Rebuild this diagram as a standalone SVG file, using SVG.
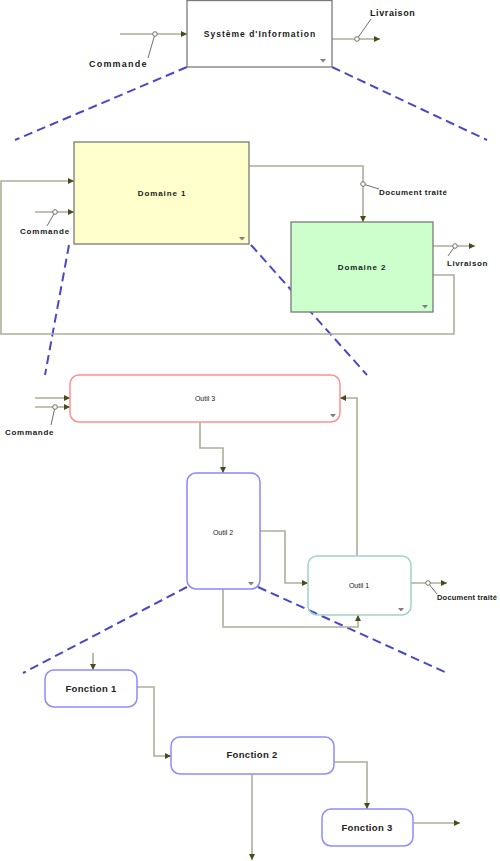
<svg xmlns="http://www.w3.org/2000/svg" width="500" height="861" viewBox="0 0 500 861">
<style>
.bg{fill:#ffffff}
.dash{stroke:#4848c8;stroke-width:2;stroke-dasharray:9,5;fill:none}
.con{stroke:#aeae9a;stroke-width:1.6;fill:none}
.lead{stroke:#707070;stroke-width:1;fill:none}
.dot{fill:#ffffff;stroke:#707070;stroke-width:1}
.box{stroke:#7a7a7a;stroke-width:1.3}
.tri{fill:#808080}
.lbl{font-family:"Liberation Sans",Arial,sans-serif;font-weight:bold;font-size:8px;fill:#1a1a1a;letter-spacing:0.8px}
.nm{font-family:"Liberation Sans",Arial,sans-serif;font-weight:bold;font-size:8px;fill:#1a1a1a;letter-spacing:0.9px;text-anchor:middle}
.ot{font-family:"Liberation Sans",Arial,sans-serif;font-size:7px;fill:#1a1a1a;text-anchor:middle}
.fn{font-family:"Liberation Sans",Arial,sans-serif;font-weight:bold;font-size:9.5px;fill:#222222;letter-spacing:0.3px;text-anchor:middle}
.fbox{fill:#ffffff;stroke:#8c8cff;stroke-width:1.5}
</style>
<defs>
<marker id="arr" viewBox="0 0 6 6" refX="6" refY="3" markerWidth="6" markerHeight="6" markerUnits="userSpaceOnUse" orient="auto">
<path d="M0,0 L6,3 L0,6 z" fill="#4a4a1e"/>
</marker>
</defs>
<rect class="bg" x="0" y="0" width="500" height="861"/>
<g id="zoom-lines">
<line class="dash" x1="187" y1="67" x2="15" y2="140"/>
<line class="dash" x1="332" y1="67" x2="487" y2="140"/>
<line class="dash" x1="69" y1="245" x2="45" y2="375"/>
<line class="dash" x1="251" y1="245" x2="367" y2="375"/>
<line class="dash" x1="187" y1="587" x2="23" y2="673"/>
<line class="dash" x1="258" y1="587" x2="447" y2="673"/>
</g>
<g id="connectors">
<path class="con" d="M120,34 H187" marker-end="url(#arr)"/>
<path class="con" d="M332,39 H380" marker-end="url(#arr)"/>
<path class="con" d="M433,275 H454 V334 H1 V181 H74" marker-end="url(#arr)"/>
<path class="con" d="M35,212 H74" marker-end="url(#arr)"/>
<path class="con" d="M249,166 H363 V222" marker-end="url(#arr)"/>
<path class="con" d="M433,246 H475" marker-end="url(#arr)"/>
<path class="con" d="M35,398 H70" marker-end="url(#arr)"/>
<path class="con" d="M35,407 H70" marker-end="url(#arr)"/>
<path class="con" d="M200,422 V448 H223 V473" marker-end="url(#arr)"/>
<path class="con" d="M260,531 H285 V583 H308" marker-end="url(#arr)"/>
<path class="con" d="M223,589 V627 H358 V615" marker-end="url(#arr)"/>
<path class="con" d="M357,556 V398 H340" marker-end="url(#arr)"/>
<path class="con" d="M411,583 H447" marker-end="url(#arr)"/>
<path class="con" d="M93,653 V670" marker-end="url(#arr)"/>
<path class="con" d="M137,687 H154 V756 H171" marker-end="url(#arr)"/>
<path class="con" d="M252,774 V860" marker-end="url(#arr)"/>
<path class="con" d="M334,762 H367 V809" marker-end="url(#arr)"/>
<path class="con" d="M413,823 H460" marker-end="url(#arr)"/>
<line class="lead" x1="155" y1="34" x2="148" y2="58"/>
<line class="lead" x1="357" y1="39" x2="371" y2="19"/>
<line class="lead" x1="55" y1="212" x2="47" y2="226"/>
<line class="lead" x1="363" y1="184" x2="379" y2="189"/>
<line class="lead" x1="455" y1="246" x2="448" y2="256"/>
<line class="lead" x1="55" y1="407" x2="51" y2="425"/>
<line class="lead" x1="428" y1="583" x2="437" y2="594"/>
<circle class="dot" cx="155" cy="34" r="2.3"/>
<circle class="dot" cx="357" cy="39" r="2.3"/>
<circle class="dot" cx="55" cy="212" r="2.3"/>
<circle class="dot" cx="363" cy="184" r="2.3"/>
<circle class="dot" cx="455" cy="246" r="2.3"/>
<circle class="dot" cx="55" cy="407" r="2.3"/>
<circle class="dot" cx="428" cy="583" r="2.3"/>
<text class="lbl" x="89" y="67" style="font-size:9px;letter-spacing:1.2px">Commande</text>
<text class="lbl" x="370" y="16" style="font-size:9px;letter-spacing:0.6px">Livraison</text>
<text class="lbl" x="20" y="234">Commande</text>
<text class="lbl" x="379" y="195" style="letter-spacing:0.5px">Document traité</text>
<text class="lbl" x="447" y="266" style="letter-spacing:0.6px">Livraison</text>
<text class="lbl" x="5" y="435" style="letter-spacing:0.7px">Commande</text>
<text class="lbl" x="437" y="600" style="font-size:7.5px;letter-spacing:0.2px">Document traité</text>
</g>
<g id="systeme">
<rect class="box" x="187" y="0.5" width="145" height="66.5" fill="#ffffff"/>
<text class="nm" x="260" y="37" style="font-size:8.5px;letter-spacing:1px">Système d'Information</text>
<path class="tri" d="M320,59 h6 l-3,3.5 z"/>
</g>
<g id="domaine1">
<rect class="box" x="74" y="142" width="175" height="102" fill="#ffffcc"/>
<text class="nm" x="162" y="196">Domaine 1</text>
<path class="tri" d="M239,237 h6 l-3,3.5 z"/>
</g>
<g id="domaine2">
<rect class="box" x="291" y="222" width="142" height="90" fill="#ccffcc"/>
<text class="nm" x="362" y="270">Domaine 2</text>
<path class="tri" d="M422,305 h6 l-3,3.5 z"/>
</g>
<g id="outil3">
<rect x="70" y="375" width="270" height="47" rx="9" fill="#ffffff" stroke="#ff9090" stroke-width="1.5"/>
<text class="ot" x="205" y="400.5">Outil 3</text>
<path class="tri" d="M330,414 h6 l-3,3.5 z"/>
</g>
<g id="outil2">
<rect x="187" y="473" width="73" height="116" rx="9" fill="#ffffff" stroke="#8888ff" stroke-width="1.5"/>
<text class="ot" x="223" y="534.5">Outil 2</text>
<path class="tri" d="M248,582 h6 l-3,3.5 z"/>
</g>
<g id="outil1">
<rect x="308" y="556" width="103" height="59" rx="9" fill="none" stroke="#a0d4c8" stroke-width="1.5"/>
<text class="ot" x="359" y="587.5">Outil 1</text>
<path class="tri" d="M398,608 h6 l-3,3.5 z"/>
</g>
<g id="fonction1">
<rect class="fbox" x="45" y="670" width="92" height="37" rx="9"/>
<text class="fn" x="91" y="691.5">Fonction 1</text>
</g>
<g id="fonction2">
<rect class="fbox" x="171" y="737" width="163" height="37" rx="9"/>
<text class="fn" x="252" y="758">Fonction 2</text>
</g>
<g id="fonction3">
<rect class="fbox" x="322" y="809" width="91" height="37" rx="9"/>
<text class="fn" x="367" y="830.5">Fonction 3</text>
</g>
</svg>
